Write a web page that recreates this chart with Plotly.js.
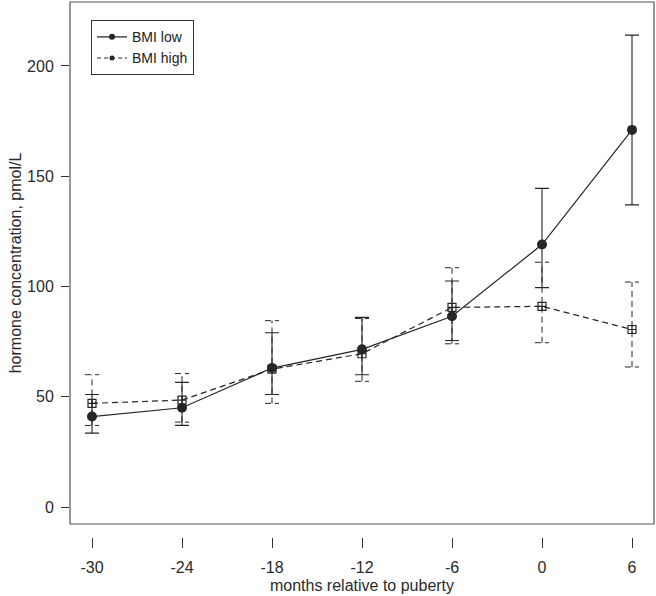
<!DOCTYPE html>
<html>
<head>
<meta charset="utf-8">
<script src="https://cdn.plot.ly/plotly-3.0.1.min.js"></script>
<style>html,body{margin:0;padding:0;background:#fff;}#chart{width:656px;height:596px;}</style>
</head>
<body>
<div id="chart"></div>
<script>
// Data
const months = [-30, -24, -18, -12, -6, 0, 6];
const tickLabels = ["-30", "-24", "-18", "-12", "-6", "0", "6"];
const lowMean  = [41, 45, 63, 71.5, 86.5, 119, 171];
const lowUpper = [51, 56.5, 79, 86, 102.5, 144.5, 214];
const lowLower = [33.5, 37, 51, 60, 75.5, 99.5, 137];
const highMean  = [47, 48.5, 62.5, 69.5, 90.5, 91, 80.5];
const highUpper = [60, 60.5, 84.5, 85.5, 108.5, 111, 102];
const highLower = [37, 38.5, 47, 57, 74, 74.5, 63.5];
const yTicks = [0, 50, 100, 150, 200];

const ink = '#262626';
const dashStyle = '6px,4px';
const capHalf = 0.47; // cap half-width in months (style)

// dashed whiskers for BMI high
const wx = [], wy = [];
months.forEach((m, i) => {
  wx.push(m, m, null); wy.push(highLower[i], highUpper[i], null);
  wx.push(m - capHalf, m + capHalf, null); wy.push(highUpper[i], highUpper[i], null);
  wx.push(m - capHalf, m + capHalf, null); wy.push(highLower[i], highLower[i], null);
});

const traces = [
  {x: wx, y: wy, type: 'scatter', mode: 'lines', showlegend: false, hoverinfo: 'skip',
   line: {color: ink, width: 1, dash: dashStyle}},
  {x: months, y: highMean, type: 'scatter', mode: 'lines+markers', showlegend: false,
   line: {color: ink, width: 1.2, dash: dashStyle},
   marker: {symbol: 'square-cross-open', size: 8, color: ink, line: {width: 1.2, color: ink}}},
  {x: months, y: lowMean, type: 'scatter', mode: 'lines+markers', showlegend: false,
   line: {color: ink, width: 1.2},
   marker: {symbol: 'circle', size: 10, color: ink},
   error_y: {type: 'data', symmetric: false,
     array: lowUpper.map((u, i) => u - lowMean[i]),
     arrayminus: lowMean.map((m, i) => m - lowLower[i]),
     width: 7, thickness: 1.1, color: ink}},
  // legend entries
  {x: [null], y: [null], type: 'scatter', mode: 'lines+markers', name: 'BMI low',
   line: {color: ink, width: 1.2}, marker: {symbol: 'circle', size: 6, color: ink}},
  {x: [null], y: [null], type: 'scatter', mode: 'lines+markers', name: 'BMI high',
   line: {color: ink, width: 1.2, dash: '4px,3px'}, marker: {symbol: 'circle', size: 5, color: ink}}
];

const font = {family: '"Liberation Sans", Arial, sans-serif', color: '#2a2a2a'};

const layout = {
  width: 656, height: 596,
  margin: {l: 70, r: 2, t: 2, b: 59, pad: 0},
  paper_bgcolor: '#fff', plot_bgcolor: '#fff',
  font: font,
  showlegend: true,
  legend: {x: 0.036, y: 0.966, xanchor: 'left', yanchor: 'top',
    bordercolor: '#333', borderwidth: 1, bgcolor: '#fff',
    font: {size: 14, family: font.family, color: '#222'}, tracegroupgap: 0,
    itemwidth: 30},
  xaxis: {
    range: [-31.467, 7.467], anchor: 'free', position: 0,
    showline: false, showgrid: false, zeroline: false,
    ticks: 'outside', ticklen: 10, tickwidth: 1, tickcolor: '#333',
    tickvals: months, ticktext: tickLabels, ticklabelstandoff: 6,
    tickfont: {size: 16, family: font.family, color: '#2a2a2a'},
    title: {text: 'months relative to puberty', font: {size: 16, family: font.family, color: '#2a2a2a'}, standoff: 4},
    automargin: false
  },
  yaxis: {
    domain: [0.0243, 1], range: [-7.71, 229.0],
    showline: false, showgrid: false, zeroline: false,
    ticks: 'outside', ticklen: 8, tickwidth: 1, tickcolor: '#333',
    tickvals: yTicks, ticktext: yTicks.map(String), ticklabelstandoff: 4,
    tickfont: {size: 16, family: font.family, color: '#2a2a2a'},
    title: {text: 'hormone concentration, pmol/L', font: {size: 16, family: font.family, color: '#2a2a2a'}, standoff: 1},
    automargin: false
  },
  shapes: [{type: 'rect', xref: 'paper', yref: 'y domain', x0: 0, x1: 1, y0: 0, y1: 1,
    line: {color: '#555', width: 1.2}, fillcolor: 'rgba(0,0,0,0)', layer: 'above'}]
};

Plotly.newPlot('chart', traces, layout, {displayModeBar: false, staticPlot: true});
</script>
</body>
</html>
